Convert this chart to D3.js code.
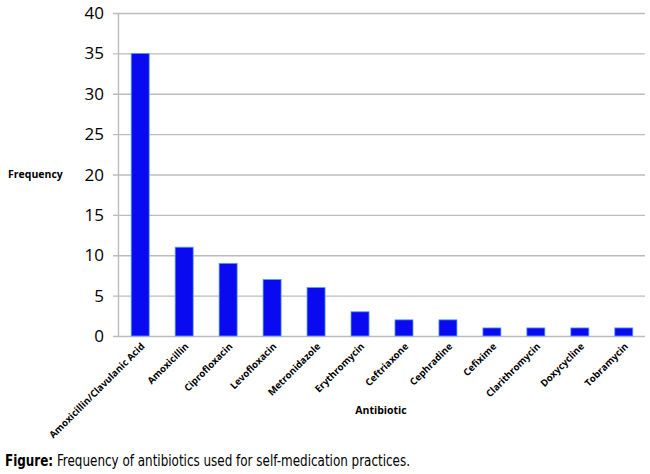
<!DOCTYPE html>
<html>
<head>
<meta charset="utf-8">
<script src="https://cdn.jsdelivr.net/npm/d3@7"></script>
<style>
  body { margin: 0; background: #fff; }
  svg text { font-family: "Open Sans", "Liberation Sans", sans-serif; fill: #000; }
</style>
</head>
<body>
<svg id="chart" width="650" height="474"></svg>
<script>
// values
var antibiotics = ["Amoxicillin/Clavulanic Acid", "Amoxicillin", "Ciprofloxacin", "Levofloxacin",
                   "Metronidazole", "Erythromycin", "Ceftriaxone", "Cephradine", "Cefixime",
                   "Clarithromycin", "Doxycycline", "Tobramycin"];
var frequency = [35, 11, 9, 7, 6, 3, 2, 2, 1, 1, 1, 1];
var yTicks = [0, 5, 10, 15, 20, 25, 30, 35, 40];

var svg = d3.select("#chart");
var plotLeft = 118, plotRight = 646, plotTop = 13, plotBottom = 336;

var x = d3.scaleBand()
    .domain(antibiotics)
    .range([plotLeft, plotRight])
    .paddingInner(0.59)
    .paddingOuter(0.3);

var y = d3.scaleLinear()
    .domain([0, 40])
    .range([plotBottom, plotTop]);

// gridlines
svg.append("g")
    .selectAll("line")
    .data(yTicks)
    .enter()
    .append("line")
    .attr("x1", plotLeft - 5)
    .attr("x2", 645)
    .attr("y1", function(d) { return y(d) + 0.5; })
    .attr("y2", function(d) { return y(d) + 0.5; })
    .attr("stroke", "#bcbcbc")
    .attr("stroke-width", 1.4);

// y axis line
svg.append("line")
    .attr("x1", plotLeft + 0.5).attr("x2", plotLeft + 0.5)
    .attr("y1", plotTop).attr("y2", plotBottom)
    .attr("stroke", "#bcbcbc")
    .attr("stroke-width", 1.4);

// y tick labels
svg.append("g")
    .selectAll("text")
    .data(yTicks)
    .enter()
    .append("text")
    .attr("x", 104)
    .attr("y", function(d) { return y(d) + 6; })
    .attr("text-anchor", "end")
    .style("font-size", "17px")
    .text(function(d) { return d; });

// bars
svg.append("g")
    .selectAll("rect")
    .data(frequency)
    .enter()
    .append("rect")
    .attr("x", function(d, i) { return x(antibiotics[i]); })
    .attr("y", function(d) { return y(d); })
    .attr("width", x.bandwidth())
    .attr("height", function(d) { return y(0) - y(d); })
    .attr("fill", "#0a0af0")
    .attr("stroke", "#5aa0ff")
    .attr("stroke-width", 0.8);

// x labels, rotated
svg.append("g")
    .selectAll("text")
    .data(antibiotics)
    .enter()
    .append("text")
    .attr("transform", function(d) {
        return "translate(" + (x(d) + x.bandwidth() / 2 + 5) + ",347) rotate(-45)";
    })
    .attr("text-anchor", "end")
    .style("font-size", "9.6px")
    .style("font-weight", "bold")
    .text(function(d) { return d; });

// axis titles
svg.append("text")
    .attr("x", 8).attr("y", 178)
    .style("font-size", "10.5px")
    .style("font-weight", "bold")
    .text("Frequency");

svg.append("text")
    .attr("x", 381).attr("y", 414)
    .attr("text-anchor", "middle")
    .style("font-size", "10.5px")
    .style("font-weight", "bold")
    .text("Antibiotic");

// caption
var cap = svg.append("text")
    .attr("x", 5).attr("y", 466)
    .attr("textLength", 405)
    .attr("lengthAdjust", "spacingAndGlyphs")
    .style("font-family", "'Liberation Sans Narrow', 'DejaVu Sans Condensed', sans-serif")
    .style("font-size", "16px");
cap.append("tspan").style("font-weight", "bold").text("Figure:");
cap.append("tspan").text(" Frequency of antibiotics used for self-medication practices.");
</script>
</body>
</html>
